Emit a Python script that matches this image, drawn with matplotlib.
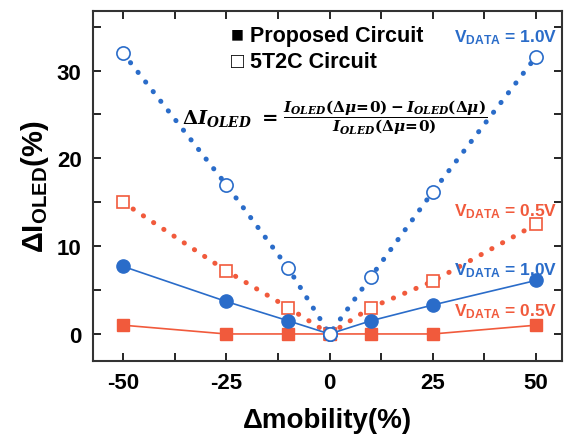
import numpy as np
import matplotlib.pyplot as plt
from matplotlib.ticker import MultipleLocator

plt.rcParams['font.family'] = ['Liberation Sans', 'DejaVu Sans']
plt.rcParams['font.weight'] = 'bold'
plt.rcParams['axes.unicode_minus'] = False
plt.rcParams['mathtext.fontset'] = 'custom'
plt.rcParams['mathtext.rm'] = 'DejaVu Serif:bold'
plt.rcParams['mathtext.it'] = 'DejaVu Serif:italic:bold'
plt.rcParams['mathtext.bf'] = 'Liberation Sans:bold'

mobility = [-50, -25, -10, 0, 10, 25, 50]          # delta mobility (%)
t5_10 = [32.0, 17.0, 7.5, 0.0, 6.5, 16.2, 31.6]   # 5T2C, VDATA = 1.0V
t5_05 = [15.0, 7.2, 3.0, 0.0, 3.0, 6.0, 12.5]     # 5T2C, VDATA = 0.5V
pr_10 = [7.7, 3.7, 1.5, 0.0, 1.5, 3.3, 6.1]       # proposed, VDATA = 1.0V
pr_05 = [1.0, 0.0, 0.0, 0.0, 0.0, 0.0, 1.0]       # proposed, VDATA = 0.5V

blue = '#2a6cc9'
red = '#f15a3c'

fig = plt.figure(figsize=(5.69, 4.39), dpi=100)
ax = fig.add_axes([0.163, 0.175, 0.825, 0.798])

dot = (0, (0.05, 2.4))
ax.plot(mobility, t5_05, color=red, lw=3.6, ls=dot, dash_capstyle='round',
        marker='s', ms=8.5, mfc='white', mec=red, mew=1.2, zorder=2)
ax.plot(mobility, t5_10, color=blue, lw=3.6, ls=dot, dash_capstyle='round',
        marker='o', ms=9.5, mfc='white', mec=blue, mew=1.2, zorder=2)
ax.plot(mobility, pr_05, color=red, lw=1.2, marker='s', ms=8.5,
        mfc=red, mec=red, zorder=3)
ax.plot(mobility, pr_10, color=blue, lw=1.2, marker='o', ms=9.5,
        mfc=blue, mec=blue, zorder=3)
# the open point at zero sits on top
ax.plot([0], [0], marker='o', ms=9.5, mfc='white', mec=blue, mew=1.2, zorder=4, ls='none')

ax.set_xlim(-57.3, 56.3)
ax.set_ylim(-3.1, 36.8)
ax.set_xticks([-50, -25, 0, 25, 50])
ax.set_yticks([0, 10, 20, 30])
ax.xaxis.set_minor_locator(MultipleLocator(12.5))
ax.yaxis.set_minor_locator(MultipleLocator(5))
ax.tick_params(which='both', direction='in', top=True, right=True,
               labelsize=16, width=1.2, pad=8, length=6)
for lab in ax.get_xticklabels() + ax.get_yticklabels():
    lab.set_fontweight('bold')
for s in ax.spines.values():
    s.set_linewidth(1.5)
    s.set_color('#333333')

ax.set_xlabel('\u0394mobility(%)', fontsize=20, fontweight='bold', labelpad=10)
ax.set_ylabel(r'$\mathbf{\Delta I_{OLED}}$(%)', fontsize=21, fontweight='bold', labelpad=4)

ax.text(0.295, 0.93, '\u25a0 Proposed Circuit', transform=ax.transAxes,
        fontsize=15.5, fontweight='bold', va='center', ha='left')
ax.text(0.295, 0.855, '\u25a1 5T2C Circuit', transform=ax.transAxes,
        fontsize=15.5, fontweight='bold', va='center', ha='left')

# formula: left side a bit larger than the fraction
ax.text(0.19, 0.697, r'$\Delta I_{OLED}\ =$', transform=ax.transAxes,
        fontsize=14, va='center', ha='left')
frac = (r'$\dfrac{I_{OLED}(\Delta\mu\!=\!0)-I_{OLED}(\Delta\mu)}'
        r'{I_{OLED}(\Delta\mu\!=\!0)}$')
ax.text(0.405, 0.697, frac, transform=ax.transAxes, fontsize=11,
        va='center', ha='left')

ax.text(0.99, 0.925, r'$\mathbf{V_{DATA}}$ = 1.0V', transform=ax.transAxes,
        color=blue, fontsize=12.5, fontweight='bold', ha='right', va='center')
ax.text(0.99, 0.43, r'$\mathbf{V_{DATA}}$ = 0.5V', transform=ax.transAxes,
        color=red, fontsize=12.5, fontweight='bold', ha='right', va='center')
ax.text(0.99, 0.26, r'$\mathbf{V_{DATA}}$ = 1.0V', transform=ax.transAxes,
        color=blue, fontsize=12.5, fontweight='bold', ha='right', va='center')
ax.text(0.99, 0.145, r'$\mathbf{V_{DATA}}$ = 0.5V', transform=ax.transAxes,
        color=red, fontsize=12.5, fontweight='bold', ha='right', va='center')

fig.savefig('out.png', dpi=100)
